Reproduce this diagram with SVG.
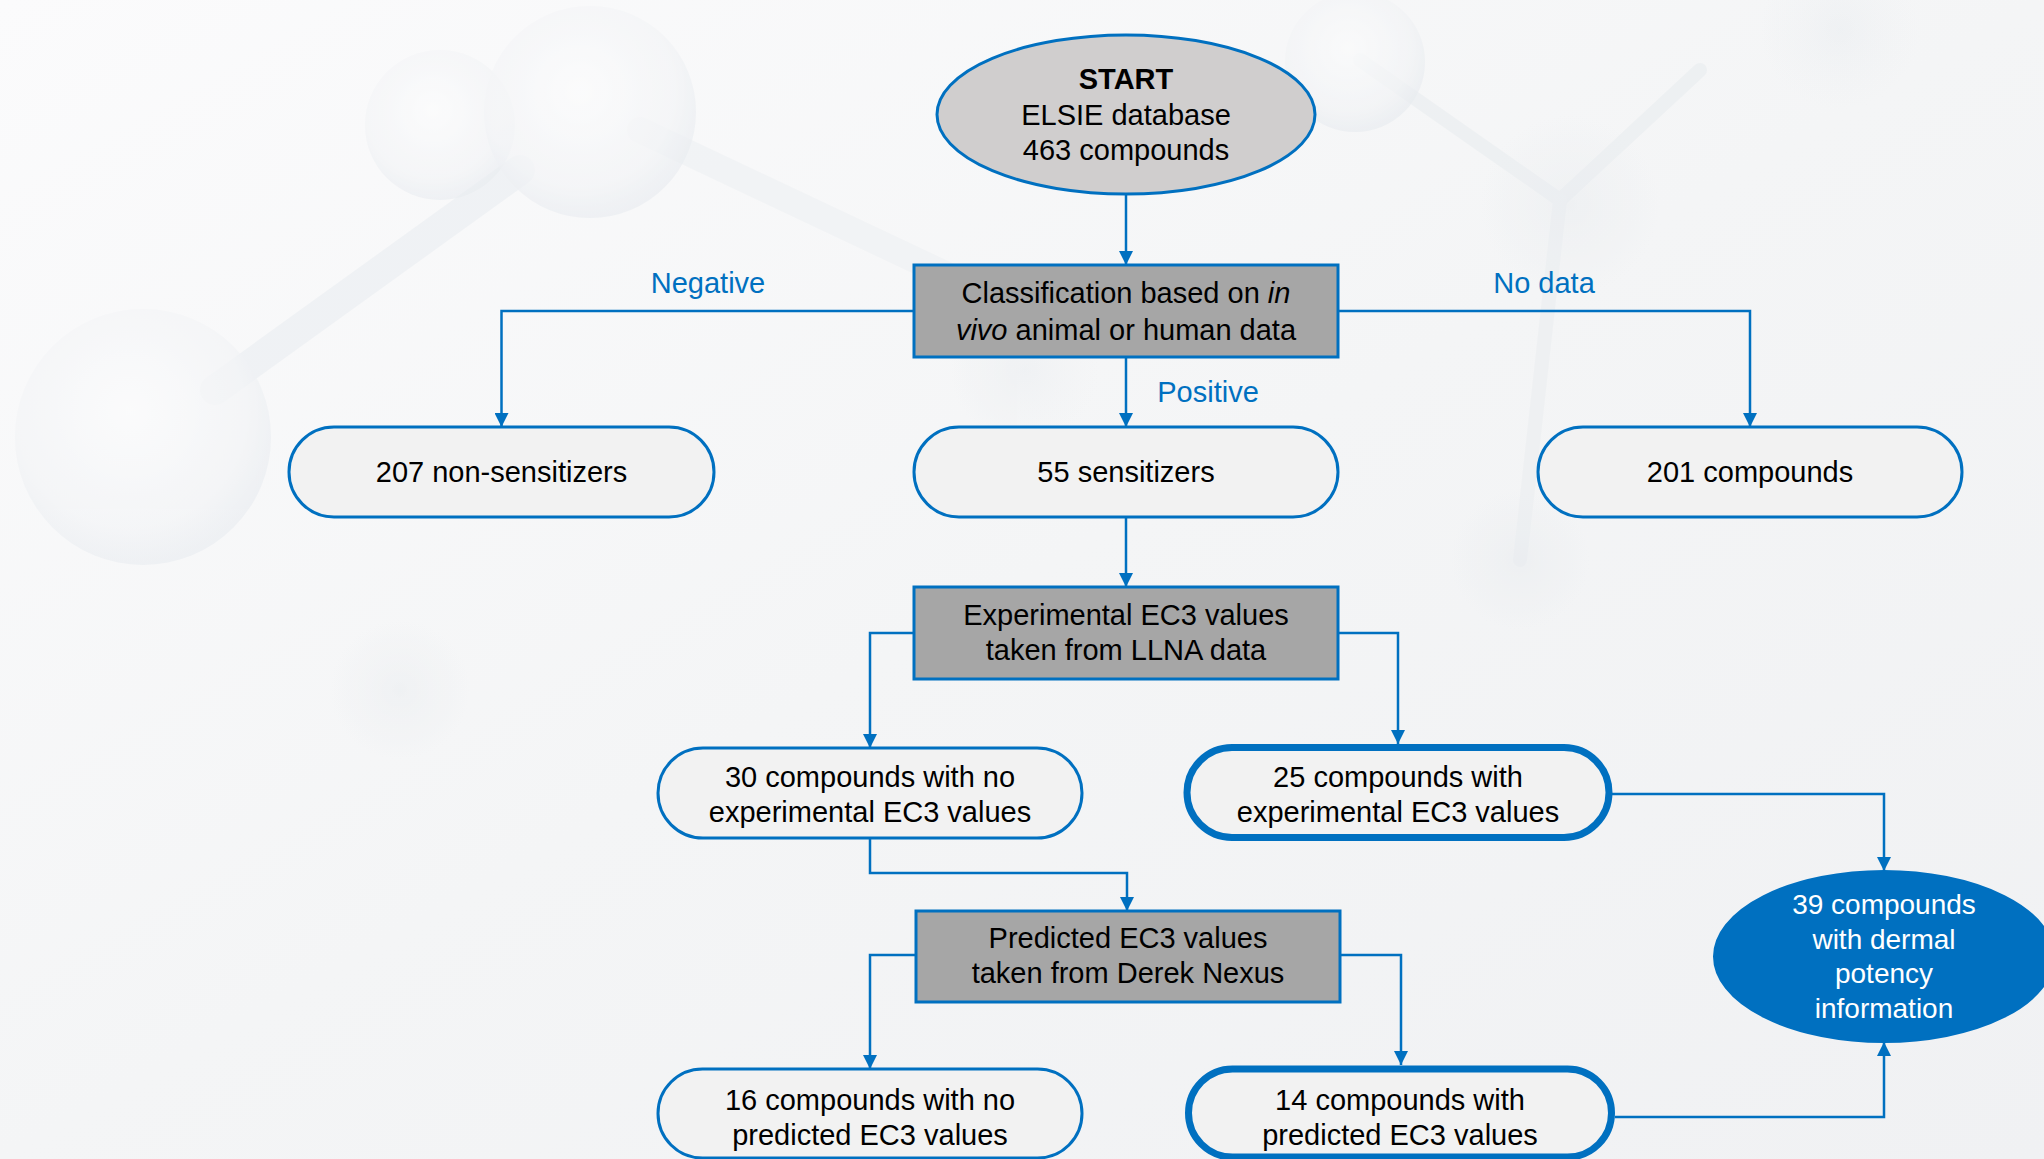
<svg xmlns="http://www.w3.org/2000/svg" width="2044" height="1159" viewBox="0 0 2044 1159">
<defs>
<linearGradient id="bg" x1="0" y1="0" x2="1" y2="1">
<stop offset="0" stop-color="#FBFBFC"/>
<stop offset="0.5" stop-color="#F4F5F6"/>
<stop offset="1" stop-color="#F0F1F3"/>
</linearGradient>
<radialGradient id="sph" cx="0.45" cy="0.4" r="0.6">
<stop offset="0" stop-color="#FFFFFF" stop-opacity="0.8"/>
<stop offset="0.75" stop-color="#F0F2F5" stop-opacity="0.7"/>
<stop offset="1" stop-color="#DCE2E9" stop-opacity="0.6"/>
</radialGradient>
<radialGradient id="sph2" cx="0.5" cy="0.5" r="0.5">
<stop offset="0" stop-color="#DDE3E9" stop-opacity="0.45"/>
<stop offset="1" stop-color="#E6EAEE" stop-opacity="0"/>
</radialGradient>
<marker id="arr" markerWidth="14" markerHeight="14" refX="14" refY="7" orient="auto" markerUnits="userSpaceOnUse">
<path d="M0,0 L14,7 L0,14 z" fill="#0070C0"/>
</marker>
<style>
text{font-family:"Liberation Sans",Arial,sans-serif;font-size:29px;text-anchor:middle;fill:#000}
.lbl{fill:#0070C0}
.ws{fill:#fff;font-size:28px}
.term{fill:#F2F2F2;stroke:#0070C0;stroke-width:3}
.thick{fill:#F2F2F2;stroke:#0070C0;stroke-width:7}
.proc{fill:#A6A6A6;stroke:#0070C0;stroke-width:3}
.con{fill:none;stroke:#0070C0;stroke-width:2.5;marker-end:url(#arr)}
</style>
</defs>
<rect width="2044" height="1159" fill="url(#bg)"/>
<g id="background" opacity="0.55">
<path d="M215 390 L520 170" stroke="#E9EDF1" stroke-width="30" stroke-linecap="round"/>
<path d="M640 130 L1000 300" stroke="#EDF0F3" stroke-width="26" stroke-linecap="round"/>
<path d="M1360 60 L1560 200 L1700 70" stroke="#E8ECEF" stroke-width="14" fill="none" stroke-linecap="round"/>
<path d="M1560 200 L1520 560" stroke="#EAEDF0" stroke-width="14" fill="none" stroke-linecap="round"/>
<circle cx="143" cy="437" r="128" fill="url(#sph)"/>
<circle cx="440" cy="125" r="75" fill="url(#sph)"/>
<circle cx="590" cy="112" r="106" fill="url(#sph)"/>
<circle cx="1355" cy="62" r="70" fill="url(#sph)"/>
<circle cx="1570" cy="205" r="90" fill="url(#sph2)"/>
<circle cx="1840" cy="30" r="80" fill="url(#sph2)"/>
<circle cx="1025" cy="370" r="75" fill="url(#sph2)"/>
<circle cx="1520" cy="560" r="70" fill="url(#sph2)"/>
<circle cx="400" cy="690" r="70" fill="url(#sph2)"/>
</g>
<g id="connectors">
<path class="con" d="M1126 194 V265"/>
<path class="con" d="M914 311 H501.5 V427"/>
<path class="con" d="M1338 311 H1750 V427"/>
<path class="con" d="M1126 357 V427"/>
<path class="con" d="M1126 517 V587"/>
<path class="con" d="M914 633 H870 V748"/>
<path class="con" d="M1338 633 H1398 V744"/>
<path class="con" d="M870 838 V873 H1127 V911"/>
<path class="con" d="M916 955 H870 V1069"/>
<path class="con" d="M1340 955 H1401 V1065"/>
<path class="con" d="M1612 794 H1884 V871"/>
<path class="con" d="M1615 1117 H1884 V1042"/>
</g>
<g id="labels">
<text class="lbl" x="708" y="293">Negative</text>
<text class="lbl" x="1544" y="293">No data</text>
<text class="lbl" x="1208" y="402">Positive</text>
</g>
<g id="start">
<ellipse cx="1126" cy="114.5" rx="189" ry="79.5" fill="#D0CECE" stroke="#0070C0" stroke-width="3"/>
<text x="1126" y="89" font-weight="bold">START</text>
<text x="1126" y="124.5">ELSIE database</text>
<text x="1126" y="160">463 compounds</text>
</g>
<g id="classification">
<rect class="proc" x="914" y="265" width="424" height="92"/>
<text x="1126" y="303">Classification based on <tspan font-style="italic">in</tspan></text>
<text x="1126" y="340"><tspan font-style="italic">vivo</tspan> animal or human data</text>
</g>
<g id="non-sensitizers">
<rect class="term" x="289" y="427" width="425" height="90" rx="45"/>
<text x="501.5" y="482">207 non-sensitizers</text>
</g>
<g id="sensitizers">
<rect class="term" x="914" y="427" width="424" height="90" rx="45"/>
<text x="1126" y="482">55 sensitizers</text>
</g>
<g id="nodata">
<rect class="term" x="1538" y="427" width="424" height="90" rx="45"/>
<text x="1750" y="482">201 compounds</text>
</g>
<g id="experimental">
<rect class="proc" x="914" y="587" width="424" height="92"/>
<text x="1126" y="624.5">Experimental EC3 values</text>
<text x="1126" y="659.5">taken from LLNA data</text>
</g>
<g id="no-experimental">
<rect class="term" x="658" y="748" width="424" height="90" rx="45"/>
<text x="870" y="787">30 compounds with no</text>
<text x="870" y="822">experimental EC3 values</text>
</g>
<g id="with-experimental">
<rect class="thick" x="1187" y="747.5" width="422" height="90" rx="45"/>
<text x="1398" y="787">25 compounds with</text>
<text x="1398" y="822">experimental EC3 values</text>
</g>
<g id="predicted">
<rect class="proc" x="916" y="911" width="424" height="91"/>
<text x="1128" y="948">Predicted EC3 values</text>
<text x="1128" y="983">taken from Derek Nexus</text>
</g>
<g id="no-predicted">
<rect class="term" x="658" y="1069" width="424" height="89" rx="44.5"/>
<text x="870" y="1110">16 compounds with no</text>
<text x="870" y="1145">predicted EC3 values</text>
</g>
<g id="with-predicted">
<rect class="thick" x="1188.5" y="1069" width="423" height="88" rx="44"/>
<text x="1400" y="1110">14 compounds with</text>
<text x="1400" y="1145">predicted EC3 values</text>
</g>
<g id="dermal">
<ellipse cx="1884" cy="956.5" rx="170" ry="85.5" fill="#0070C0" stroke="#0070C0" stroke-width="2"/>
<text class="ws" x="1884" y="914">39 compounds</text>
<text class="ws" x="1884" y="948.5">with dermal</text>
<text class="ws" x="1884" y="983">potency</text>
<text class="ws" x="1884" y="1017.5">information</text>
</g>
</svg>
